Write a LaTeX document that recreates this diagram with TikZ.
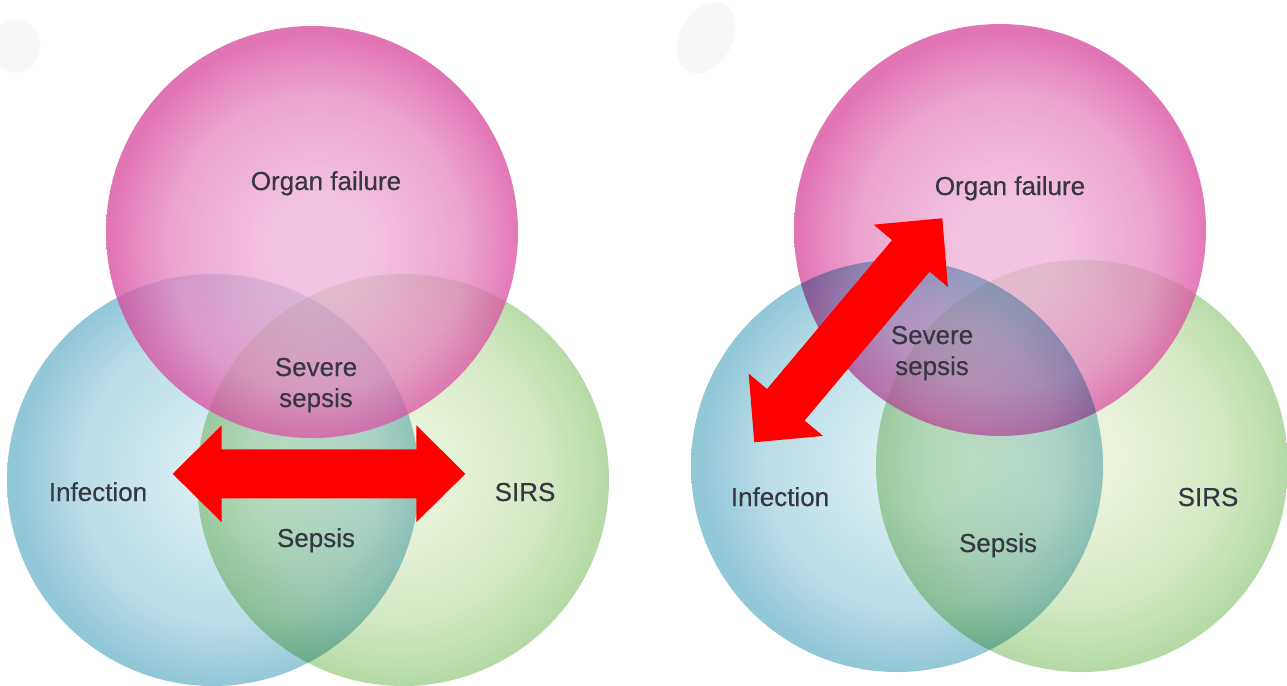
\documentclass[tikz,border=0pt]{standalone}
\usepackage{fontspec}
\setmainfont{Liberation Sans}[FakeBold=0.4]
\usetikzlibrary{calc}
% pink, drawn with opacity 0.75 (colours pre-compensated)
\definecolor{pinkE}{RGB}{216,72,156}
\definecolor{pinkM}{RGB}{231,134,192}
\definecolor{pinkC}{RGB}{239,174,215}
% blue and green, opaque, multiplied
\definecolor{blueE}{RGB}{146,199,215}
\definecolor{blueM}{RGB}{186,221,231}
\definecolor{blueC}{RGB}{214,236,241}
\definecolor{greenE}{RGB}{180,218,164}
\definecolor{greenM}{RGB}{212,232,196}
\definecolor{greenC}{RGB}{233,243,218}
\definecolor{arrowred}{RGB}{255,0,0}
\definecolor{labelgray}{RGB}{55,55,66}
\definecolor{smudge}{RGB}{250,247,247}
\pgfdeclareradialshading{pinkball}{\pgfpoint{1bp}{-2bp}}{color(0bp)=(pinkC); color(6bp)=(pinkC); color(18bp)=(pinkM); color(25bp)=(pinkE); color(50bp)=(pinkE)}
\pgfdeclareradialshading{blueball}{\pgfpoint{3bp}{1bp}}{color(0bp)=(blueC); color(6bp)=(blueC); color(18bp)=(blueM); color(25.5bp)=(blueE); color(50bp)=(blueE)}
\pgfdeclareradialshading{greenball}{\pgfpoint{-1bp}{1.5bp}}{color(0bp)=(greenC); color(6bp)=(greenC); color(18bp)=(greenM); color(25.5bp)=(greenE); color(50bp)=(greenE)}
\tikzset{
  venn/.style={circle, inner sep=0pt, minimum size=412pt, shade, draw=none},
  lbl/.style={text=labelgray, font=\fontsize{26}{31}\selectfont, anchor=base, align=center, inner sep=0pt},
}
\newcommand\dblfatarrow[2]{%
  \fill[arrowred] (#1)
    -- ($(#1)!49pt!(#2)!48.5pt!90:(#2)$)
    -- ($(#1)!49pt!(#2)!24.5pt!90:(#2)$)
    -- ($(#2)!49pt!(#1)!24.5pt!-90:(#1)$)
    -- ($(#2)!49pt!(#1)!48.5pt!-90:(#1)$)
    -- (#2)
    -- ($(#2)!49pt!(#1)!48.5pt!90:(#1)$)
    -- ($(#2)!49pt!(#1)!24.5pt!90:(#1)$)
    -- ($(#1)!49pt!(#2)!24.5pt!-90:(#2)$)
    -- ($(#1)!49pt!(#2)!48.5pt!-90:(#2)$)
    -- cycle;}
\begin{document}
\begin{tikzpicture}[x=1pt,y=-1pt]
\useasboundingbox (0,0) rectangle (1287,685);
\fill[white] (0,0) rectangle (1287,685);
% faint smudges
\fill[smudge] (16,46) ellipse (24 and 27);
\fill[smudge, rotate around={-30:(706,38)}] (706,38) ellipse (26 and 38);
% left diagram
\begin{scope}[blend mode=multiply]
  \node[venn, shading=blueball]  (LI) at (213,480) {};
  \node[venn, shading=greenball] (LS) at (403,480) {};
\end{scope}
\begin{scope}[fill opacity=0.75]
  \node[venn, shading=pinkball]  (LO) at (312,232) {};
\end{scope}
% right diagram
\node[venn, shading=greenball] (RS) at (1082,466) {};
\begin{scope}[fill opacity=0.75]
  \node[venn, shading=pinkball]  (RO) at (1000,230) {};
\end{scope}
\begin{scope}[blend mode=multiply]
  \node[venn, shading=blueball]  (RI) at (897,466) {};
\end{scope}
% labels left
\node[lbl] (tLO) at (326,190) {Organ failure};
\node[lbl] (tLSS) at (316,407) {Severe\\sepsis};
\node[lbl] (tLI) at (98,501) {Infection};
\node[lbl] (tLS) at (525,501) {SIRS};
\node[lbl] (tLSep) at (316,547) {Sepsis};
% labels right
\node[lbl] (tRO) at (1010,195) {Organ failure};
\node[lbl] (tRSS) at (932,375) {Severe\\sepsis};
\node[lbl] (tRI) at (780,506) {Infection};
\node[lbl] (tRS) at (1208,506) {SIRS};
\node[lbl] (tRSep) at (998,552) {Sepsis};
% red double arrows
\coordinate (LA) at (172.7,473.8);
\coordinate (LB) at (465.3,473.8);
\dblfatarrow{LA}{LB}
\coordinate (RA) at (754.3,442.3);
\coordinate (RB) at (942.3,218.3);
\dblfatarrow{RA}{RB}
\end{tikzpicture}
\end{document}
